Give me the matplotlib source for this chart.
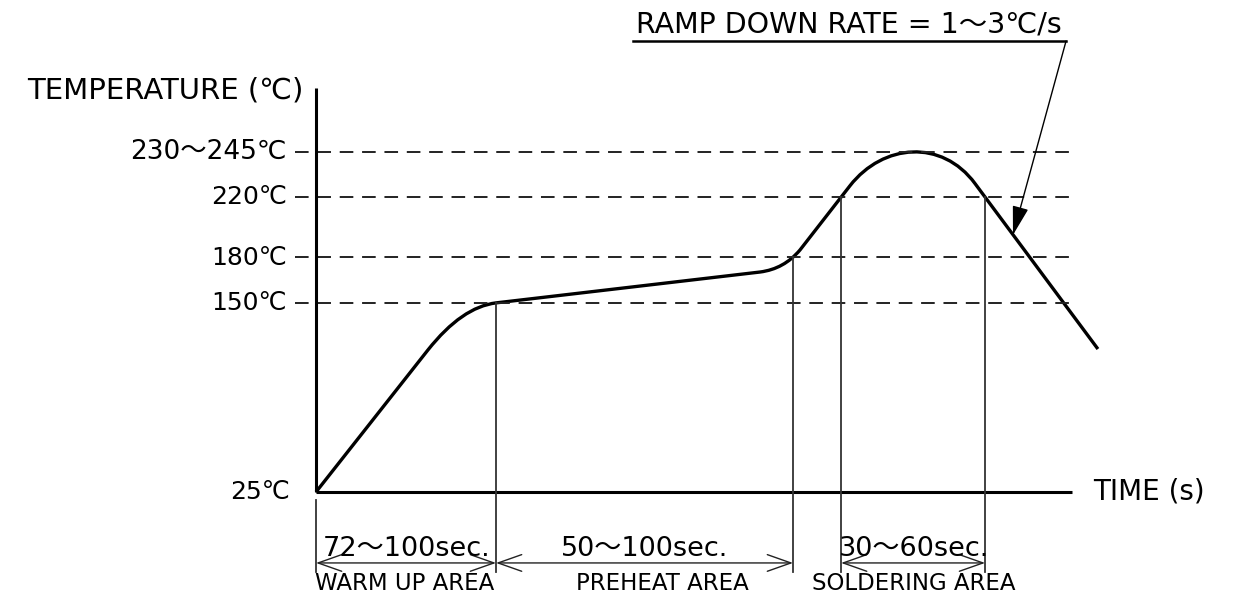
import matplotlib
matplotlib.use("Agg")
import matplotlib.pyplot as plt
from matplotlib.path import Path
from matplotlib.patches import PathPatch

plt.rcParams['font.family'] = ['DejaVu Sans', 'Noto Sans CJK JP']

# ---- data ----
# reflow profile key points (time s, temperature C); control points for smooth corners
profile_t = [0, 62.2, 81.1, 100, 246.7, 260.0, 268.9, 296.7, 315.1, 347.7, 366.1, 434.4]
profile_T = [25, 118.9, 147.3, 150, 170.4, 172.4, 185.0, 227.5, 255.4, 258.5, 228.9, 119.5]
profile_kind = ['M', 'L', 'Q', 'Q', 'L', 'Q', 'Q', 'L', 'C', 'C', 'C', 'L']

ref_temps = [25, 150, 180, 220, 250]
ref_labels = ['25℃', '150℃', '180℃', '220℃', '230〜245℃']

zone_bounds = [0, 100, 265, 291.7, 371.7]
zone_bound_temps = [25, 150, 180, 220, 220]
span_pairs = [(0, 100), (100, 265), (291.7, 371.7)]
span_labels = ['72〜100sec.', '50〜100sec.', '30〜60sec.']
area_labels = ['WARM UP AREA', 'PREHEAT AREA', 'SOLDERING AREA']
area_centers = [49.4, 192.5, 332.2]

t_axis_end = 420
T_axis_top = 292
ramp_text = 'RAMP DOWN RATE = 1〜3℃/s'

# ---- figure ----
fig = plt.figure(figsize=(12.36, 5.99), dpi=100)
ax = fig.add_axes([0, 0, 1, 1])
ax.set_xlim(-175.56, 511.11)
ax.set_ylim(-45.73, 350.2)
ax.axis('off')

# dashed reference lines
for T in ref_temps[1:]:
    ax.plot([-11.7, t_axis_end], [T, T], color='#222222', lw=1.4,
            dashes=(7, 4.5), solid_capstyle='butt')

# axes lines
ax.plot([0, 0], [25, T_axis_top], color='black', lw=2.2, solid_capstyle='butt')
ax.plot([0, t_axis_end], [25, 25], color='black', lw=2.2, solid_capstyle='butt')

# profile curve
code_map = {'M': Path.MOVETO, 'L': Path.LINETO, 'Q': Path.CURVE3, 'C': Path.CURVE4}
path = Path(list(zip(profile_t, profile_T)), [code_map[k] for k in profile_kind])
ax.add_patch(PathPatch(path, fill=False, lw=2.4, edgecolor='black', joinstyle='round'))

# y labels
for T, lab in zip(ref_temps, ref_labels):
    x = -14.4 if T == 25 else -16.1
    fs = 19 if len(lab) > 5 else 18
    ax.text(x, T, lab, ha='right', va='center', fontsize=fs)

# zone boundary extension lines
dim_y = -21.9
for t, T in zip(zone_bounds, zone_bound_temps):
    top = 19.7 if t == 0 else T
    ax.plot([t, t], [top, -27.9], color='#333333', lw=1.3)

# dimension arrows
for (a, b), lab in zip(span_pairs, span_labels):
    ax.annotate('', xy=(a, dim_y), xytext=(b, dim_y),
                arrowprops=dict(arrowstyle='<->,head_length=0.85,head_width=0.3',
                                lw=1.0, color='#222222', shrinkA=0, shrinkB=0,
                                mutation_scale=20))
    ax.text((a + b) / 2 + 0.3, -12.5, lab, ha='center', va='center', fontsize=19.5)

for c, lab in zip(area_centers, area_labels):
    ax.text(c, -35.2, lab, ha='center', va='center', fontsize=16.5)

# axis titles
ax.text(-7.2, 290.7, 'TEMPERATURE (℃)', ha='right', va='center', fontsize=21)
ax.text(431.7, 25, 'TIME (s)', ha='left', va='center', fontsize=20)

# ramp down annotation
ax.text(177.8, 333.7, ramp_text, ha='left', va='center', fontsize=20.5)
ax.plot([176.1, 416.7], [323.1, 323.1], color='black', lw=1.8)
ax.annotate('', xy=(387.2, 194.9), xytext=(416.7, 323.1),
            arrowprops=dict(arrowstyle='-|>,head_length=0.9,head_width=0.25',
                            lw=1.0, color='black', shrinkA=0, shrinkB=0,
                            mutation_scale=20))

fig.savefig('out.png', dpi=100)
